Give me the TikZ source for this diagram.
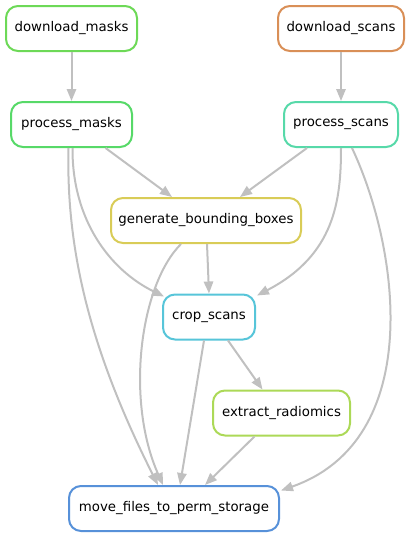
\documentclass[tikz,border=0pt]{standalone}
\usepackage{fontspec}
\setmainfont{DejaVu Sans}
\usetikzlibrary{arrows.meta,calc}
\definecolor{dmcol}{RGB}{109,217,87}
\definecolor{dscol}{RGB}{217,143,87}
\definecolor{pmcol}{RGB}{87,217,104}
\definecolor{pscol}{RGB}{87,217,169}
\definecolor{gbcol}{RGB}{217,204,87}
\definecolor{crcol}{RGB}{87,197,217}
\definecolor{excol}{RGB}{172,217,87}
\definecolor{mvcol}{RGB}{87,145,217}
\definecolor{edgegray}{RGB}{192,192,192}
\tikzset{
	rule/.style={draw, line width=1.5pt, rounded corners=9pt, fill=white, minimum height=33.75pt, inner sep=0pt, font=\fontsize{10}{12}\selectfont},
	dep/.style={draw=edgegray, line width=1.5pt, -{Triangle[length=9pt,width=7pt]}}
}
\begin{document}
\begin{tikzpicture}[x=0.75pt,y=-0.75pt]
	\useasboundingbox (0,0) rectangle (411,539);
	\node[rule, draw=dmcol, minimum width=98.25pt] (dm) at (71.5,28.5) {download\_masks};
	\node[rule, draw=dscol, minimum width=94.5pt] (ds) at (341,28.5) {download\_scans};
	\node[rule, draw=pmcol, minimum width=90.75pt] (pm) at (71.5,124.5) {process\_masks};
	\node[rule, draw=pscol, minimum width=85.5pt] (ps) at (341,124.5) {process\_scans};
	\node[rule, draw=gbcol, minimum width=142.5pt] (gb) at (206,220.5) {generate\_bounding\_boxes};
	\node[rule, draw=crcol, minimum width=69pt] (cr) at (209,317) {crop\_scans};
	\node[rule, draw=excol, minimum width=102.75pt] (ex) at (281.5,413) {extract\_radiomics};
	\node[rule, draw=mvcol, minimum width=157.5pt] (mv) at (174,508.5) {move\_files\_to\_perm\_storage};

	\draw[dep] (dm.south) -- (pm.north);
	\draw[dep] (ds.south) -- (ps.north);
	\draw[dep] ($(pm.south)+(34,0)$) -- ($(gb.north)+(-34,0)$);
	\draw[dep] ($(ps.south)+(-34,0)$) -- ($(gb.north)+(34,0)$);
	\draw[dep] ($(pm.south)+(1,0)$) .. controls (72,220) and (110,270) .. ($(cr.north west)+(2,3)$);
	\draw[dep] ($(pm.south)+(-3,0)$) .. controls (66,250) and (90,350) .. ($(mv.north)+(-16,0)$);
	\draw[dep] ($(gb.south)+(-25,0)$) .. controls (140,285) and (125,400) .. ($(mv.north)+(-11,0)$);
	\draw[dep] ($(gb.south)+(1,0)$) -- (cr.north);
	\draw[dep] (ps.south) .. controls (341,200) and (335,255) .. ($(cr.north east)+(1,2)$);
	\draw[dep] ($(ps.south)+(11,0)$) .. controls (400,250) and (425,440) .. ($(mv.east)+(1,-18)$);
	\draw[dep] ($(cr.south)+(19,0)$) -- ($(ex.north)+(-19,0)$);
	\draw[dep] ($(cr.south)+(-5,0)$) -- ($(mv.north)+(6,0)$);
	\draw[dep] ($(ex.south)+(-27,0)$) -- ($(mv.north)+(31,0)$);
\end{tikzpicture}
\end{document}
